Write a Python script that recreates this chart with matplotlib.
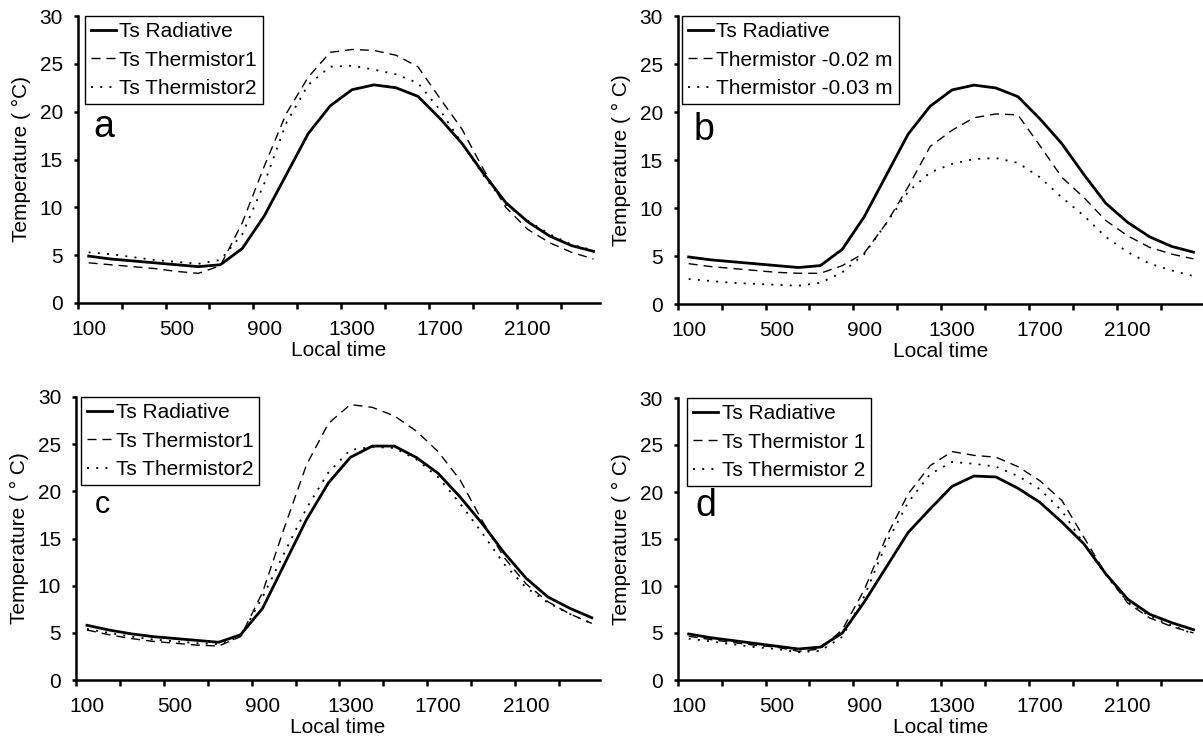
import numpy as np
import matplotlib
matplotlib.use("Agg")
import matplotlib.pyplot as plt


# Figure size in pixels (saved at 100 dpi)
FIG_W = 1203
FIG_H = 741
DPI = 100

# Width of one hourly category on the x axis, in pixels
CATEGORY_PX = 21.95
FONT_SIZE = 15

plt.rcParams["font.family"] = ["Liberation Sans", "DejaVu Sans"]


# Hourly categories on the x axis
local_time = [100, 200, 300, 400, 500, 600, 700, 800, 900, 1000, 1100, 1200,
              1300, 1400, 1500, 1600, 1700, 1800, 1900, 2000, 2100, 2200,
              2300, 2400]
xtick_labels = ["100", "500", "900", "1300", "1700", "2100"]

# Panel a and b share the same radiative surface temperature
radiative_ab = [4.9, 4.6, 4.4, 4.2, 4.0, 3.8, 4.0, 5.7, 9.1, 13.4, 17.7, 20.6,
                22.3, 22.8, 22.5, 21.6, 19.3, 16.7, 13.5, 10.5, 8.5, 7.0,
                6.0, 5.4]

# Panel a
a_thermistor1 = [4.2, 4.0, 3.8, 3.6, 3.3, 3.1, 3.9, 8.4, 14.3, 19.8, 23.6, 26.2,
                 26.5, 26.4, 25.9, 24.7, 21.4, 18.2, 13.9, 10.0, 7.7, 6.3,
                 5.3, 4.6]
a_thermistor2 = [5.3, 5.1, 4.8, 4.5, 4.3, 4.1, 4.5, 7.2, 12.5, 18.8, 22.8, 24.7,
                 24.8, 24.4, 23.9, 23.0, 20.2, 16.7, 13.3, 10.3, 8.6, 7.2,
                 6.1, 5.5]

# Panel b
b_thermistor_002 = [4.2, 3.9, 3.7, 3.5, 3.3, 3.2, 3.2, 4.0, 5.3, 8.4, 12.2, 16.4,
                    18.1, 19.4, 19.8, 19.7, 16.5, 13.2, 11.1, 8.7, 7.1, 5.9,
                    5.2, 4.7]
b_thermistor_003 = [2.6, 2.4, 2.2, 2.1, 2.0, 1.9, 2.2, 3.3, 5.2, 8.4, 11.7, 13.7,
                    14.6, 15.1, 15.2, 14.7, 13.2, 11.1, 9.2, 7.0, 5.4, 4.2,
                    3.5, 2.9]

# Panel c
c_radiative = [5.8, 5.3, 4.9, 4.6, 4.4, 4.2, 4.0, 4.8, 7.6, 12.3, 17.0, 20.9,
               23.6, 24.8, 24.8, 23.6, 21.9, 19.4, 16.6, 13.5, 10.8, 8.8,
               7.6, 6.6]
c_thermistor1 = [5.3, 4.8, 4.4, 4.1, 3.9, 3.7, 3.6, 4.6, 9.3, 16.2, 22.8, 27.2,
                 29.2, 28.9, 28.0, 26.4, 24.2, 21.2, 16.9, 13.0, 10.2, 8.3,
                 7.0, 6.0]
c_thermistor2 = [5.4, 5.0, 4.6, 4.3, 4.1, 3.9, 3.8, 4.6, 8.8, 13.5, 18.2, 22.0,
                 24.4, 24.7, 24.6, 23.4, 21.5, 18.7, 15.6, 12.3, 9.8, 8.2,
                 7.0, 6.0]

# Panel d
d_radiative = [4.9, 4.5, 4.2, 3.9, 3.6, 3.3, 3.5, 5.0, 8.3, 12.0, 15.7, 18.2,
               20.6, 21.7, 21.6, 20.4, 18.9, 16.8, 14.5, 11.3, 8.6, 7.0,
               6.1, 5.35]
d_thermistor1 = [4.65, 4.3, 4.0, 3.7, 3.5, 3.05, 3.3, 5.35, 9.6, 15.2, 19.8, 22.8,
                 24.3, 23.9, 23.7, 22.7, 21.2, 19.1, 15.2, 11.3, 8.2, 6.6,
                 5.7, 5.0]
d_thermistor2 = [4.4, 4.1, 3.8, 3.5, 3.3, 2.95, 3.1, 4.6, 8.9, 14.5, 18.9, 21.9,
                 23.2, 23.0, 22.7, 21.7, 20.3, 18.0, 14.5, 11.2, 8.3, 6.8,
                 5.8, 4.9]


# Line styles: solid, dashed, dotted
SOLID = dict(color="black", linewidth=2.0, linestyle="-")
DASHED = dict(color="black", linewidth=1.0, linestyle=(0, (6.5, 4.3)))
DOTTED = dict(color="black", linewidth=1.3, linestyle=(0, (1.1, 4.0)))


def add_panel(fig, box, series, letter, letter_pos, letter_size, ylabel, legend_x):
    # box is (left, top, right, bottom) in pixels
    left, top, right, bottom = box
    ax = fig.add_axes([
        left / FIG_W,
        1 - bottom / FIG_H,
        (right - left) / FIG_W,
        (bottom - top) / FIG_H
    ])

    positions = np.arange(1, len(local_time) + 1)

    for values, label, style in series:
        ax.plot(positions, values, label=label, **style)

    ax.set_xlim(0.5, 0.5 + (right - left) / CATEGORY_PX)
    ax.set_ylim(0, 30)
    ax.set_yticks(np.arange(0, 31, 5))

    # Tick marks every two categories, labels every four categories
    ax.set_xticks(np.arange(0.5, 23, 2))
    ax.set_xticklabels([])
    label_positions = [positions[local_time.index(int(t))] for t in xtick_labels]
    ax.set_xticks(label_positions, xtick_labels, minor=True)

    for side in ["top", "right"]:
        ax.spines[side].set_visible(False)
    for side in ["left", "bottom"]:
        ax.spines[side].set_linewidth(1.8)

    ax.tick_params(axis="both", which="major", direction="out", width=1.8,
                   labelsize=FONT_SIZE, colors="black")
    ax.tick_params(axis="y", which="major", length=3.2, pad=7.5)
    ax.tick_params(axis="x", which="major", length=4.5)
    ax.tick_params(axis="x", which="minor", length=0, pad=12.5,
                   labelsize=FONT_SIZE)

    ax.set_xlabel("Local time", fontsize=FONT_SIZE, labelpad=1)
    ax.set_ylabel(ylabel, fontsize=FONT_SIZE, labelpad=6)

    ax.text(letter_pos[0], letter_pos[1], letter, transform=ax.transAxes,
            fontsize=letter_size, ha="left", va="baseline")

    legend = ax.legend(loc="upper left", bbox_to_anchor=(legend_x, 1.0),
                       borderaxespad=0, fontsize=FONT_SIZE, frameon=True,
                       fancybox=False, edgecolor="black", handlelength=1.2,
                       handletextpad=0.15, labelspacing=0.45, borderpad=0.3)
    legend.get_frame().set_linewidth(1.0)
    legend.get_frame().set_alpha(1)

    return ax


def main():
    fig = plt.figure(figsize=(FIG_W / DPI, FIG_H / DPI), dpi=DPI)

    add_panel(
        fig, (77.7, 16, 600, 303),
        [(radiative_ab, "Ts Radiative", SOLID),
         (a_thermistor1, "Ts Thermistor1", DASHED),
         (a_thermistor2, "Ts Thermistor2", DOTTED)],
        "a", (0.03, 0.58), 27, "Temperature ( \u00b0C)", 0.014
    )

    add_panel(
        fig, (677.7, 16, 1203, 304),
        [(radiative_ab, "Ts Radiative", SOLID),
         (b_thermistor_002, "Thermistor -0.02 m", DASHED),
         (b_thermistor_003, "Thermistor -0.03 m", DOTTED)],
        "b", (0.03, 0.57), 27, "Temperature ( \u00b0 C)", 0.008
    )

    add_panel(
        fig, (76, 397, 600, 680),
        [(c_radiative, "Ts Radiative", SOLID),
         (c_thermistor1, "Ts Thermistor1", DASHED),
         (c_thermistor2, "Ts Thermistor2", DOTTED)],
        "c", (0.035, 0.59), 22, "Temperature ( \u00b0 C)", 0.01
    )

    add_panel(
        fig, (677.7, 398, 1203, 680),
        [(d_radiative, "Ts Radiative", SOLID),
         (d_thermistor1, "Ts Thermistor 1", DASHED),
         (d_thermistor2, "Ts Thermistor 2", DOTTED)],
        "d", (0.033, 0.583), 27, "Temperature ( \u00b0 C)", 0.018
    )

    fig.savefig("out.png", dpi=DPI, facecolor="white")
    plt.close(fig)


if __name__ == "__main__":
    main()
